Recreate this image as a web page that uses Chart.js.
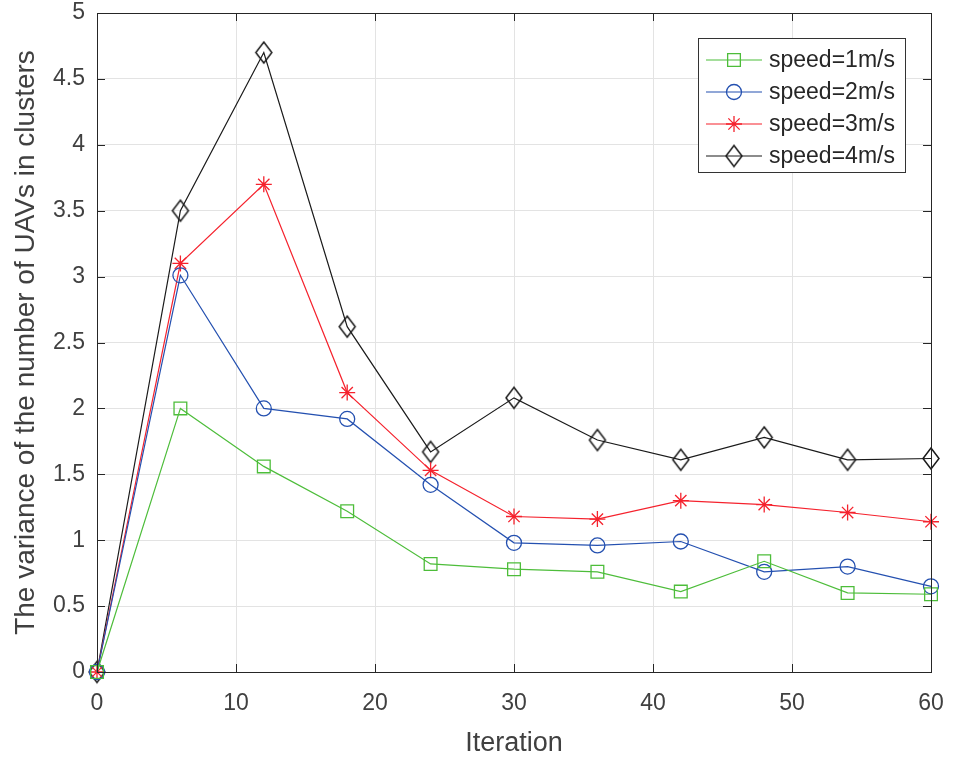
<!DOCTYPE html>
<html>
<head>
<meta charset="utf-8">
<script src="https://cdn.jsdelivr.net/npm/chart.js@4"></script>
<style>
  html, body { margin: 0; padding: 0; background: #fff; }
  #wrap { width: 958px; height: 757px; }
</style>
</head>
<body>
<div id="wrap"><canvas id="c" width="958" height="757"></canvas></div>
<script>
const iterations = [0, 6, 12, 18, 24, 30, 36, 42, 48, 54, 60];
const speed1 = [0, 2.00, 1.56, 1.22, 0.82, 0.78, 0.76, 0.61, 0.84, 0.60, 0.59];
const speed2 = [0, 3.01, 2.00, 1.92, 1.42, 0.98, 0.96, 0.99, 0.76, 0.80, 0.65];
const speed3 = [0, 3.10, 3.70, 2.12, 1.53, 1.18, 1.16, 1.30, 1.27, 1.21, 1.14];
const speed4 = [0, 3.50, 4.70, 2.62, 1.67, 2.08, 1.76, 1.61, 1.78, 1.61, 1.62];
const labels = ['speed=1m/s', 'speed=2m/s', 'speed=3m/s', 'speed=4m/s'];

const FONT = "'Liberation Sans', Arial, sans-serif";
const TEXT = '#404040';

// matlab diamond is a bit taller than wide
function diamond(color) {
  const c = document.createElement('canvas');
  c.width = 20; c.height = 25;
  const g = c.getContext('2d');
  g.strokeStyle = color;
  g.lineWidth = 1.5;
  g.beginPath();
  g.moveTo(10, 2); g.lineTo(18, 12.5); g.lineTo(10, 23); g.lineTo(2, 12.5);
  g.closePath();
  g.stroke();
  return c;
}

function series(label, vals, color, style, radius) {
  return {
    label: label,
    data: iterations.map((x, i) => ({ x: x, y: vals[i] })),
    borderColor: color,
    backgroundColor: 'rgba(0,0,0,0)',
    borderWidth: 1.2,
    pointStyle: style,
    pointRadius: radius,
    pointBorderWidth: 1.3,
    pointBorderColor: color,
    pointBackgroundColor: 'rgba(0,0,0,0)',
    tension: 0,
    clip: false
  };
}

// box, inward ticks and legend, drawn like a MATLAB figure
const matlabFrame = {
  id: 'matlabFrame',
  afterDraw(chart) {
    const ctx = chart.ctx, a = chart.chartArea;
    const xs = chart.scales.x, ys = chart.scales.y;
    ctx.save();
    ctx.strokeStyle = '#262626';
    ctx.lineWidth = 1;
    ctx.strokeRect(a.left + 0.5, a.top + 0.5, a.right - a.left, a.bottom - a.top);
    ctx.beginPath();
    for (let v = 0; v <= 60; v += 10) {
      const px = Math.round(xs.getPixelForValue(v)) + 0.5;
      ctx.moveTo(px, a.bottom); ctx.lineTo(px, a.bottom - 8);
      ctx.moveTo(px, a.top); ctx.lineTo(px, a.top + 8);
    }
    for (let v = 0; v <= 5; v += 0.5) {
      const py = Math.round(ys.getPixelForValue(v)) + 0.5;
      ctx.moveTo(a.left, py); ctx.lineTo(a.left + 8, py);
      ctx.moveTo(a.right, py); ctx.lineTo(a.right - 8, py);
    }
    ctx.stroke();

    // legend
    const lx = 698, ly = 38, lw = 207, lh = 134;
    ctx.fillStyle = '#fff';
    ctx.fillRect(lx, ly, lw, lh);
    ctx.strokeStyle = '#333';
    ctx.strokeRect(lx + 0.5, ly + 0.5, lw, lh);
    ctx.font = '23px ' + FONT;
    ctx.textBaseline = 'middle';
    chart.data.datasets.forEach((ds, i) => {
      const y = 60 + i * 32;
      ctx.strokeStyle = ds.borderColor;
      ctx.lineWidth = 1.2;
      ctx.beginPath();
      ctx.moveTo(706, y); ctx.lineTo(762, y);
      ctx.stroke();
      ctx.lineWidth = 1.3;
      ctx.fillStyle = 'rgba(0,0,0,0)';
      Chart.helpers.drawPoint(ctx, {
        pointStyle: ds.pointStyle, radius: ds.pointRadius, borderWidth: 1.3
      }, 734, y);
      ctx.fillStyle = '#262626';
      ctx.fillText(ds.label, 769, y + 1);
    });
    ctx.restore();
  }
};

new Chart(document.getElementById('c'), {
  type: 'line',
  data: {
    datasets: [
      series(labels[0], speed1, '#4dbd3a', 'rect', 9),
      series(labels[1], speed2, '#2450b0', 'circle', 7.5),
      series(labels[2], speed3, '#f5222d', 'star', 8),
      series(labels[3], speed4, '#1a1a1a', diamond('#1a1a1a'), 10)
    ]
  },
  options: {
    responsive: false,
    animation: false,
    layout: { padding: { top: 13, right: 27, left: 0, bottom: 0 } },
    plugins: { legend: { display: false }, tooltip: { enabled: false } },
    scales: {
      x: {
        type: 'linear', min: 0, max: 60,
        ticks: { stepSize: 10, color: TEXT, font: { family: FONT, size: 23 }, padding: 18 },
        grid: { color: '#e3e3e3', lineWidth: 1, drawTicks: false },
        border: { display: false },
        title: { display: true, text: 'Iteration', color: TEXT, font: { family: FONT, size: 27 }, padding: { top: 4, bottom: -3 } },
        afterFit(s) { s.height = 85; s.paddingLeft = 0; s.paddingRight = 0; }
      },
      y: {
        min: 0, max: 5,
        ticks: {
          stepSize: 0.5, color: TEXT, font: { family: FONT, size: 23 }, padding: 12,
          callback: v => String(Math.round(v * 10) / 10)
        },
        grid: { color: '#e3e3e3', lineWidth: 1, drawTicks: false },
        border: { display: false },
        title: { display: true, text: 'The variance of the number of UAVs in clusters', color: TEXT, font: { family: FONT, size: 28 }, padding: { top: 9, bottom: 0 } },
        afterFit(s) { s.width = 97; s.paddingTop = 0; s.paddingBottom = 0; }
      }
    }
  },
  plugins: [matlabFrame]
});
</script>
</body>
</html>
